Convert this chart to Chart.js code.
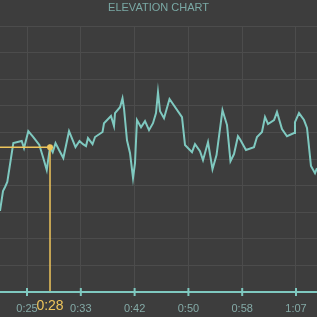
<!DOCTYPE html>
<html>
<head>
<meta charset="utf-8">
<script src="https://cdn.jsdelivr.net/npm/chart.js@4.4.1/dist/chart.umd.min.js"></script>
<style>
  html, body { margin: 0; padding: 0; background: #3d3d3d; }
  #wrap { width: 317px; height: 317px; }
</style>
</head>
<body>
<div id="wrap"><canvas id="chartElevacao"></canvas></div>
<script>
// time in seconds and elevation (arbitrary units, 0-100 range of the view)
const tempos = [
    20.78, 21.25, 21.57, 21.92, 22.86, 24.17, 24.53, 25.20, 25.98, 26.92,
    27.54, 28.08, 28.59, 29.01, 29.45, 30.00, 30.67, 31.56, 32.57, 33.20,
    33.74, 34.21, 34.52, 35.23, 35.62, 36.79, 37.02, 38.11, 38.58, 38.74,
    39.52, 39.91, 40.14, 40.61, 41.08, 41.55, 41.86, 42.17, 42.80, 43.42,
    44.05, 44.67, 45.14, 45.45, 45.77, 46.39, 47.25, 49.20, 49.67, 50.76,
    51.23, 52.01, 52.48, 53.26, 53.96, 54.59, 55.52, 56.23, 56.77, 57.32,
    57.94, 58.26, 59.19, 60.44, 60.91, 61.69, 62.16, 62.63, 63.57, 64.03,
    64.81, 65.59, 66.69, 66.84, 67.47, 68.25, 68.72, 69.34, 69.97, 70.28
];
const elevacao = [
    30.5, 38.0, 39.5, 41.4, 56.0, 56.8, 54.1, 60.5, 58.3, 55.3,
    50.4, 45.9, 54.5, 52.6, 56.0, 53.4, 50.4, 60.5, 54.5, 56.8,
    55.6, 54.9, 57.9, 55.6, 58.3, 60.2, 63.5, 66.2, 62.4, 67.3,
    69.5, 72.9, 69.2, 57.1, 52.3, 42.9, 48.5, 64.7, 62.0, 64.3,
    60.9, 63.5, 67.3, 75.2, 68.0, 65.4, 72.6, 65.8, 55.3, 52.6,
    55.6, 53.0, 49.6, 56.4, 46.2, 51.5, 68.4, 62.8, 49.2, 51.9,
    58.6, 57.5, 53.4, 54.5, 58.3, 60.2, 65.8, 63.2, 64.7, 67.7,
    61.3, 58.6, 59.8, 63.9, 67.3, 64.7, 61.7, 47.4, 44.7, 46.6
];
const tickSegundos = [25, 33.4, 41.8, 50.2, 58.6, 67];
const tickLabels = ['0:25', '0:33', '0:42', '0:50', '0:58', '1:07'];
const cursorIndex = 12;

const corLinha = '#7fc9c0';
const corCursor = '#eec55c';
const corGrade = '#4c4c4c';
const corTexto = '#84aaa7';
const corTitulo = '#7aa9a5';

function formatarTempo(seg) {
    const m = Math.floor(seg / 60);
    const s = Math.floor(seg % 60);
    return m + ':' + (s < 10 ? '0' + s : s);
}

const cursorPlugin = {
    id: 'cursor',
    afterDraw(chart) {
        const ctx = chart.ctx;
        const x = chart.scales.x;
        const y = chart.scales.y;
        const area = chart.chartArea;

        // tick marks crossing the axis line
        ctx.save();
        ctx.strokeStyle = corLinha;
        ctx.lineWidth = 2;
        x.ticks.forEach((t, i) => {
            const px = x.getPixelForTick(i);
            ctx.beginPath();
            ctx.moveTo(px, area.bottom - 4);
            ctx.lineTo(px, area.bottom + 4);
            ctx.stroke();
        });

        const px = x.getPixelForValue(tempos[cursorIndex]);
        const py = y.getPixelForValue(elevacao[cursorIndex]);
        ctx.strokeStyle = corCursor;
        ctx.lineWidth = 1.5;
        ctx.beginPath();
        ctx.moveTo(area.left, py);
        ctx.lineTo(px, py);
        ctx.moveTo(px, py);
        ctx.lineTo(px, area.bottom - 1);
        ctx.stroke();

        ctx.fillStyle = corCursor;
        ctx.beginPath();
        ctx.arc(px, py, 3, 0, Math.PI * 2);
        ctx.fill();

        ctx.font = '14px "Liberation Sans", Arial, sans-serif';
        ctx.textAlign = 'center';
        ctx.textBaseline = 'middle';
        ctx.fillText(formatarTempo(tempos[cursorIndex]), px, area.bottom + 14);
        ctx.restore();
    }
};

const ctx = document.getElementById('chartElevacao').getContext('2d');
const chartElevacao = new Chart(ctx, {
    type: 'line',
    data: {
        datasets: [{
            label: 'Elevation',
            data: tempos.map((t, i) => ({ x: t, y: elevacao[i] })),
            borderColor: corLinha,
            borderWidth: 2,
            pointRadius: 0,
            tension: 0,
            fill: false
        }]
    },
    options: {
        responsive: true,
        maintainAspectRatio: false,
        animation: false,
        layout: { padding: 0 },
        plugins: {
            legend: { display: false },
            tooltip: { enabled: false },
            title: {
                display: true,
                text: 'ELEVATION CHART',
                color: corTitulo,
                font: { family: '"Liberation Sans", Arial, sans-serif', size: 11, weight: 'normal' },
                padding: { top: 1, bottom: 12 }
            }
        },
        scales: {
            x: {
                type: 'linear',
                min: 20.78,
                max: 70.28,
                afterBuildTicks: (scale) => {
                    scale.ticks = tickSegundos.map(v => ({ value: v }));
                },
                afterFit: (scale) => {
                    scale.height = 25;
                },
                ticks: {
                    color: corTexto,
                    font: { family: '"Liberation Sans", Arial, sans-serif', size: 11 },
                    padding: 10,
                    maxRotation: 0,
                    autoSkip: false,
                    callback: (v, i) => tickLabels[i]
                },
                grid: { color: corGrade, drawTicks: false },
                border: { color: corLinha, width: 2 }
            },
            y: {
                min: 0,
                max: 100,
                ticks: { display: false, stepSize: 10 },
                grid: { color: corGrade, drawTicks: false },
                border: { display: false }
            }
        }
    },
    plugins: [cursorPlugin]
});
</script>
</body>
</html>
